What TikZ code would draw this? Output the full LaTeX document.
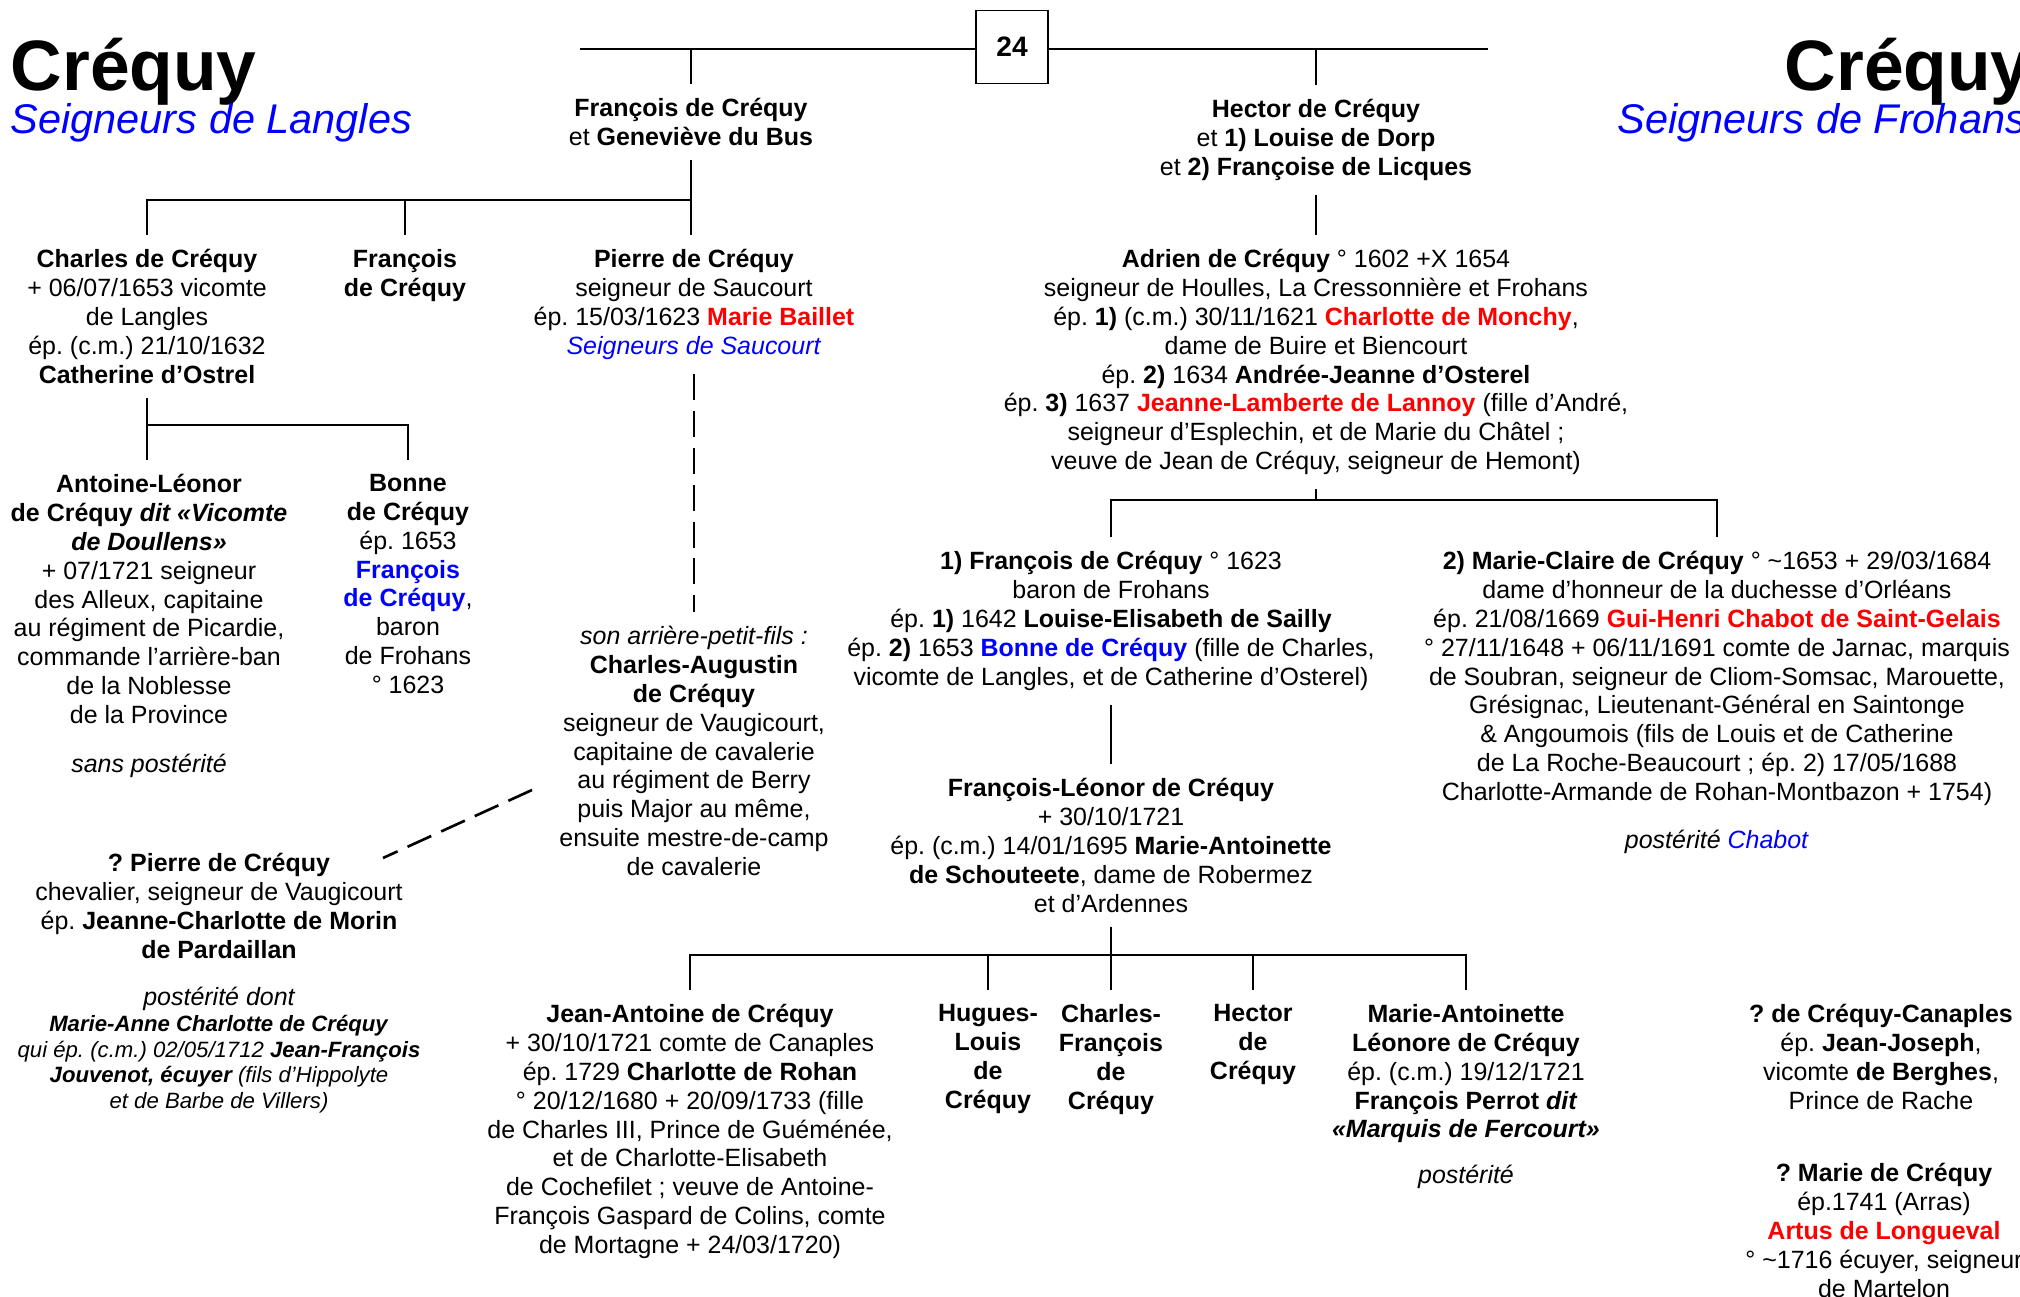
\documentclass[tikz,border=0pt]{standalone}
\usepackage{fontspec}
\setmainfont{Liberation Sans}
\usepackage{tikz}
\usetikzlibrary{positioning,calc}
\definecolor{crqred}{RGB}{255,0,0}
\definecolor{crqblue}{RGB}{0,0,255}
\definecolor{linecolor}{RGB}{0,0,0}
\newcommand{\redname}[1]{\textcolor{crqred}{\textbf{#1}}}
\newcommand{\bluename}[1]{\textcolor{crqblue}{#1}}
\frenchspacing

\begin{document}
\begin{tikzpicture}[
    x=0.01cm, y=-0.01cm,
    % Styles des blocs
    person/.style={
        align=center,
        inner sep=0pt,
        outer sep=4.1pt,
        anchor=north,
        font=\fontsize{7.1}{8.2}\selectfont,
    },
    boldperson/.style={person, font=\fontsize{7.1}{8.2}\selectfont\bfseries},
    smallperson/.style={person, font=\fontsize{6.3}{7.3}\selectfont},
    bigtitle/.style={anchor=base west, inner sep=0pt, font=\fontsize{20.3}{24}\selectfont\bfseries},
    subtitle/.style={anchor=base west, inner sep=0pt, font=\fontsize{11.8}{14}\selectfont\itshape, text=crqblue},
    numbox/.style={draw, line width=0.5pt, minimum width=0.72cm, minimum height=0.73cm, inner sep=0pt, font=\fontsize{8}{9.6}\selectfont\bfseries},
    % Styles des traits
    kin/.style={line width=0.75pt, draw=linecolor},
    dashkin/.style={kin, dash pattern=on 7.4pt off 3.1pt},
]
\useasboundingbox (0,0) rectangle (2020,1297);

% ============================================================================
% TITRES
% ============================================================================
\node[bigtitle] (ttl) at (10,91) {Créquy};
\node[subtitle] (sttl) at (10,134) {Seigneurs de Langles};
\node[bigtitle] (ttr) at (1784,91) {Créquy};
\node[subtitle] (sttr) at (1617,134) {Seigneurs de Frohans};

\node[numbox] (num) at (1012,47) {24};
\coordinate (topL) at (580,49);
\coordinate (topR) at (1488,49);

% ============================================================================
% BRANCHE DE LANGLES
% ============================================================================
\node[person] (fcre) at (691,84) {\textbf{François de Créquy}\\et \textbf{Geneviève du Bus}};

\node[person] (char) at (147,235) {\textbf{Charles de Créquy}\\+ 06/07/1653 vicomte\\de Langles\\ép. (c.m.) 21/10/1632\\\textbf{Catherine d’Ostrel}};
\node[boldperson] (fran) at (405,235) {François\\de Créquy};
\node[person] (pier) at (694,235) {\textbf{Pierre de Créquy}\\seigneur de Saucourt\\ép. 15/03/1623 \redname{Marie Baillet}\\\bluename{\textit{Seigneurs de Saucourt}}};

\node[person] (anto) at (149,460) {\textbf{Antoine-Léonor}\\\textbf{de Créquy \textit{dit «Vicomte}}\\\textbf{\textit{de Doullens»}}\\+ 07/1721 seigneur\\des Alleux, capitaine\\au régiment de Picardie,\\commande l’arrière-ban\\de la Noblesse\\de la Province\\[0.2cm]\textit{sans postérité}};
\node[person] (bonn) at (408,460) {\textbf{Bonne}\\\textbf{de Créquy}\\ép. 1653\\\bluename{\textbf{François}}\\\bluename{\textbf{de Créquy}},\\baron\\de Frohans\\° 1623};

\node[person] (caug) at (694,612) {\textit{son arrière-petit-fils :}\\\textbf{Charles-Augustin}\\\textbf{de Créquy}\\seigneur de Vaugicourt,\\capitaine de cavalerie\\au régiment de Berry\\puis Major au même,\\ensuite mestre-de-camp\\de cavalerie};

\node[person] (pcre) at (219,839) {\textbf{? Pierre de Créquy}\\chevalier, seigneur de Vaugicourt\\ép. \textbf{Jeanne-Charlotte de Morin}\\\textbf{de Pardaillan}};
\node[smallperson] (pdesc) at (219,973) {{\fontsize{7.1}{8.2}\selectfont\itshape postérité dont}\\\textbf{\textit{Marie-Anne Charlotte de Créquy}}\\\textit{qui ép. (c.m.) 02/05/1712 \textbf{Jean-François}}\\\textit{\textbf{Jouvenot, écuyer} (fils d’Hippolyte}\\\textit{et de Barbe de Villers)}};
\coordinate (dash1) at (532,790);
\coordinate (dash2) at (383,858);

% ============================================================================
% BRANCHE DE FROHANS
% ============================================================================
\node[person] (hect) at (1316,85) {\textbf{Hector de Créquy}\\et \textbf{1) Louise de Dorp}\\et \textbf{2) Françoise de Licques}};

\node[person] (adri) at (1316,235) {\textbf{Adrien de Créquy} ° 1602 +X 1654\\seigneur de Houlles, La Cressonnière et Frohans\\ép. \textbf{1)} (c.m.) 30/11/1621 \redname{Charlotte de Monchy},\\dame de Buire et Biencourt\\ép. \textbf{2)} 1634 \textbf{Andrée-Jeanne d’Osterel}\\ép. \textbf{3)} 1637 \redname{Jeanne-Lamberte de Lannoy} (fille d’André,\\seigneur d’Esplechin, et de Marie du Châtel ;\\veuve de Jean de Créquy, seigneur de Hemont)};

\node[person] (fr1) at (1111,537) {\textbf{1) François de Créquy} ° 1623\\baron de Frohans\\ép. \textbf{1)} 1642 \textbf{Louise-Elisabeth de Sailly}\\ép. \textbf{2)} 1653 \bluename{\textbf{Bonne de Créquy}} (fille de Charles,\\vicomte de Langles, et de Catherine d’Osterel)};
\node[person] (mcl) at (1717,537) {\textbf{2) Marie-Claire de Créquy} ° \textasciitilde1653 + 29/03/1684\\dame d’honneur de la duchesse d’Orléans\\ép. 21/08/1669 \redname{Gui-Henri Chabot de Saint-Gelais}\\° 27/11/1648 + 06/11/1691 comte de Jarnac, marquis\\de Soubran, seigneur de Cliom-Somsac, Marouette,\\Grésignac, Lieutenant-Général en Saintonge\\\& Angoumois (fils de Louis et de Catherine\\de La Roche-Beaucourt ; ép. 2) 17/05/1688\\Charlotte-Armande de Rohan-Montbazon + 1754)\\[0.19cm]\textit{postérité} \bluename{\textit{Chabot}}};

\node[person] (fleo) at (1111,764) {\textbf{François-Léonor de Créquy}\\+ 30/10/1721\\ép. (c.m.) 14/01/1695 \textbf{Marie-Antoinette}\\\textbf{de Schouteete}, dame de Robermez\\et d’Ardennes};

\node[person] (jant) at (690,990) {\textbf{Jean-Antoine de Créquy}\\+ 30/10/1721 comte de Canaples\\ép. 1729 \textbf{Charlotte de Rohan}\\° 20/12/1680 + 20/09/1733 (fille\\de Charles III, Prince de Guéménée,\\et de Charlotte-Elisabeth\\de Cochefilet ; veuve de Antoine-\\François Gaspard de Colins, comte\\de Mortagne + 24/03/1720)};
\node[boldperson] (hugu) at (988,990) {Hugues-\\Louis\\de\\Créquy};
\node[boldperson] (chfr) at (1111,990) {Charles-\\François\\de\\Créquy};
\node[boldperson] (hecr) at (1253,990) {Hector\\de\\Créquy};
\node[person] (mant) at (1466,990) {\textbf{Marie-Antoinette}\\\textbf{Léonore de Créquy}\\ép. (c.m.) 19/12/1721\\\textbf{François Perrot \textit{dit}}\\\textbf{\textit{«Marquis de Fercourt»}}\\[0.17cm]\textit{postérité}};

\node[person] (canp) at (1881,990) {\textbf{? de Créquy-Canaples}\\ép. \textbf{Jean-Joseph},\\vicomte \textbf{de Berghes},\\Prince de Rache};
\node[person] (mari) at (1884,1149) {\textbf{? Marie de Créquy}\\ép.1741 (Arras)\\\redname{Artus de Longueval}\\° \textasciitilde1716 écuyer, seigneur\\de Martelon};

% ============================================================================
% TRAITS
% ============================================================================
\coordinate (bar1) at (0,200);
\coordinate (bar2) at (0,425);
\coordinate (bar3) at (0,500);
\coordinate (bar4) at (0,955);

\draw[kin] (topL) -- (topL -| num.west);
\draw[kin] (num.east |- topR) -- (topR);
\draw[kin] (fcre.north |- topL) -- (fcre.north);
\draw[kin] (hect.north |- topL) -- (hect.north);

\draw[kin] (fcre.south) -- (pier.north -| fcre.south);
\draw[kin] (char.north) -- (char.north |- bar1) -- (fcre.south |- bar1);
\draw[kin] (fran.north |- bar1) -- (fran.north);

\draw[kin] (char.south) -- (anto.north -| char.south);
\draw[kin] (char.south |- bar2) -| (bonn.north);

\draw[dashkin] (pier.south) -- (caug.north);
\draw[dashkin] (dash1) -- (dash2);

\draw[kin] (hect.south) -- (adri.north);
\draw[kin] (adri.south) -- (adri.south |- bar3);
\draw[kin] (fr1.north) -- (fr1.north |- bar3) -| (mcl.north);
\draw[kin] (fr1.south) -- (fleo.north);

\draw[kin] (fleo.south) -- (fleo.south |- bar4);
\draw[kin] (jant.north) -- (jant.north |- bar4) -| (mant.north);
\foreach \kid in {hugu,chfr,hecr}
    \draw[kin] (\kid.north |- bar4) -- (\kid.north);

\end{tikzpicture}
\end{document}
